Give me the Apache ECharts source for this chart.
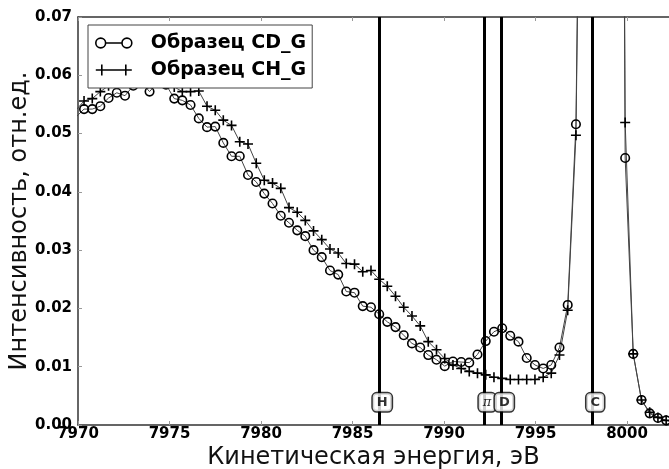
<!DOCTYPE html>
<html><head><meta charset="utf-8">
<script src="https://cdn.jsdelivr.net/npm/echarts@6/dist/echarts.min.js"></script>
<style>html,body{margin:0;padding:0;background:#fff}#c{width:669px;height:469px}</style>
</head><body><div id="c"></div>
<script>
// Kinetic energy grid (eV)
const energy = [7969.88, 7970.33, 7970.78, 7971.22, 7971.67, 7972.12, 7972.57, 7973.02, 7973.46, 7973.91,
  7974.36, 7974.81, 7975.26, 7975.70, 7976.15, 7976.60, 7977.05, 7977.50, 7977.94, 7978.39,
  7978.84, 7979.29, 7979.74, 7980.18, 7980.63, 7981.08, 7981.53, 7981.98, 7982.42, 7982.87,
  7983.32, 7983.77, 7984.22, 7984.66, 7985.11, 7985.56, 7986.01, 7986.46, 7986.90, 7987.35,
  7987.80, 7988.25, 7988.70, 7989.14, 7989.59, 7990.04, 7990.49, 7990.94, 7991.38, 7991.83,
  7992.28, 7992.73, 7993.18, 7993.62, 7994.07, 7994.52, 7994.97, 7995.42, 7995.86, 7996.31,
  7996.76, 7997.21, 7997.66, 7998.10, 7998.55, 7999.00, 7999.45, 7999.90, 8000.34, 8000.79,
  8001.24, 8001.69, 8002.14, 8002.58];
// Sample CD_G intensity
const cdG = [0.0528, 0.0542, 0.0542, 0.0547, 0.0561, 0.0570, 0.0565, 0.0582, 0.0588, 0.0572,
  0.0588, 0.0584, 0.0560, 0.0557, 0.0549, 0.0526, 0.0511, 0.0512, 0.0484, 0.0461,
  0.0461, 0.0429, 0.0417, 0.0397, 0.0380, 0.0359, 0.0347, 0.0334, 0.0324, 0.0300,
  0.0288, 0.0265, 0.0258, 0.0229, 0.0227, 0.0204, 0.0202, 0.0190, 0.0177, 0.0168,
  0.0154, 0.0140, 0.0133, 0.0120, 0.0112, 0.0101, 0.0109, 0.0108, 0.0107, 0.0121,
  0.0144, 0.0160, 0.0166, 0.0153, 0.0143, 0.0115, 0.0103, 0.0097, 0.0103, 0.0133,
  0.0206, 0.0516, 0.17, 0.45, 0.60, 0.55, 0.33, 0.0458, 0.0122, 0.0043,
  0.0020, 0.0012, 0.0008, 0.0005];
// Sample CH_G intensity
const chG = [0.0540, 0.0556, 0.0560, 0.0572, 0.0582, 0.0590, 0.0595, 0.0600, 0.0605, 0.0603,
  0.0600, 0.0592, 0.0580, 0.0572, 0.0572, 0.0573, 0.0547, 0.0540, 0.0523, 0.0514,
  0.0486, 0.0482, 0.0449, 0.0420, 0.0415, 0.0406, 0.0373, 0.0365, 0.0351, 0.0333,
  0.0318, 0.0302, 0.0295, 0.0277, 0.0276, 0.0263, 0.0265, 0.0250, 0.0238, 0.0221,
  0.0202, 0.0187, 0.0170, 0.0143, 0.0129, 0.0114, 0.0103, 0.0097, 0.0092, 0.0089,
  0.0086, 0.0082, 0.0080, 0.0078, 0.0078, 0.0078, 0.0078, 0.0082, 0.0089, 0.0120,
  0.0197, 0.0497, 0.16, 0.44, 0.60, 0.55, 0.35, 0.0519, 0.0122, 0.0043,
  0.0022, 0.0013, 0.0008, 0.0005];
const seriesNames = ['Образец CD_G', 'Образец CH_G'];
const markerNames = ['H', 'π', 'D', 'C'];
const markerEnergies = [7986.46, 7992.19, 7993.13, 7998.10];
const xTickStep = 5;
const yTickStep = 0.01;

const FONT = 'DejaVu Sans';
const LABEL_Y = 0.0039;
const ringIcon = 'path://M1.5,6A4.5,4.5 0 1,1 10.5,6A4.5,4.5 0 1,1 1.5,6ZM10.5,6L25.5,6M25.5,6A4.5,4.5 0 1,1 34.5,6A4.5,4.5 0 1,1 25.5,6Z';
const plusIcon = 'path://M0,6L36,6M6,0.5L6,11.5M30,0.5L30,11.5';
const plusSym = 'path://M0,5L10,5M5,0L5,10';

const chart = echarts.init(document.getElementById('c'), null, {renderer: 'canvas'});
const pairs = (ys) => energy.map((x, i) => [x, ys[i]]);
const iconStyle = {color: 'rgba(0,0,0,0)', borderColor: '#000', borderWidth: 1.6};

const option = {
  animation: false,
  backgroundColor: '#fff',
  grid: {left: 78, top: 17, right: 0, bottom: 44, containLabel: false, outerBoundsMode: 'none'},
  legend: {
    left: 88, top: 25, orient: 'vertical',
    padding: [7, 6, 7, 7], itemGap: 5, itemWidth: 36, itemHeight: 12,
    backgroundColor: '#fff', borderColor: '#444', borderWidth: 1, borderRadius: 0,
    textStyle: {fontFamily: FONT, fontWeight: 'bold', fontSize: 19, color: '#000', lineHeight: 22, padding: [0, 0, 0, 14]},
    data: [
      {name: seriesNames[0], icon: ringIcon, itemStyle: iconStyle},
      {name: seriesNames[1], icon: plusIcon, itemStyle: iconStyle}
    ]
  },
  xAxis: [{
    type: 'value', min: 7970, max: 8002.295, interval: xTickStep,
    name: 'Кинетическая энергия, эВ', nameLocation: 'middle', nameGap: 21, nameMoveOverlap: false,
    nameTextStyle: {fontFamily: FONT, fontSize: 24, color: '#111'},
    axisLine: {show: true, lineStyle: {color: '#333', width: 1.5}},
    axisTick: {show: true, inside: true, length: 4, lineStyle: {color: '#999'}},
    splitLine: {show: false},
    axisLabel: {fontFamily: FONT, fontWeight: 'bold', fontSize: 15, color: '#000', margin: 2,
      formatter: v => (Math.abs(v % xTickStep) < 1e-6 ? String(v) : '')}
  }, {
    type: 'value', position: 'top', min: 7970, max: 8002.295, interval: xTickStep,
    axisLine: {show: true, onZero: false, lineStyle: {color: '#333', width: 1.5}},
    axisTick: {show: true, inside: true, length: 4, lineStyle: {color: '#999'}},
    axisLabel: {show: false}, splitLine: {show: false}
  }],
  yAxis: [{
    type: 'value', min: 0, max: 0.07, interval: yTickStep,
    name: 'Интенсивность, отн.ед.', nameLocation: 'middle', nameGap: 46, nameMoveOverlap: false,
    nameTextStyle: {fontFamily: FONT, fontSize: 24, color: '#111'},
    axisLine: {show: true, lineStyle: {color: '#333', width: 1.5}},
    axisTick: {show: true, inside: true, length: 4, lineStyle: {color: '#999'}},
    splitLine: {show: false},
    axisLabel: {fontFamily: FONT, fontWeight: 'bold', fontSize: 15, color: '#000', margin: 6,
      formatter: v => v.toFixed(2)}
  }],
  series: [
    {
      name: seriesNames[0], type: 'line', data: pairs(cdG), clip: true,
      symbol: 'circle', symbolSize: 8.5, showAllSymbol: true,
      lineStyle: {color: '#444', width: 1},
      itemStyle: {color: 'rgba(255,255,255,0)', borderColor: '#000', borderWidth: 1.6},
      z: 3
    },
    {
      name: seriesNames[1], type: 'line', data: pairs(chG), clip: true,
      symbol: plusSym, symbolSize: 10, showAllSymbol: true,
      lineStyle: {color: '#444', width: 1},
      itemStyle: {color: 'rgba(255,255,255,0)', borderColor: '#000', borderWidth: 1.6},
      z: 3
    },
    {
      name: 'markers', type: 'scatter', z: 5,
      symbolSize: 1, itemStyle: {color: 'rgba(0,0,0,0)'},
      data: markerEnergies.map((e, i) => ({
        value: [e, LABEL_Y],
        label: markerNames[i] === 'π' ? {fontFamily: 'DejaVu Serif', fontStyle: 'italic', fontWeight: 'normal'} : {}
      })),
      label: {
        show: true, position: 'inside', offset: [3, 0],
        formatter: p => markerNames[p.dataIndex],
        fontFamily: FONT, fontWeight: 'bold', fontSize: 13, color: '#000',
        backgroundColor: '#fff', borderColor: '#000', borderWidth: 1.5, borderRadius: 4,
        padding: [3, 4, 2, 4]
      },
      markLine: {
        silent: true, symbol: ['none', 'none'], animation: false,
        label: {show: false},
        lineStyle: {color: '#000', width: 3, type: 'solid'},
        data: markerEnergies.map(e => ({xAxis: e}))
      }
    }
  ]
};
chart.setOption(option);
</script></body></html>
